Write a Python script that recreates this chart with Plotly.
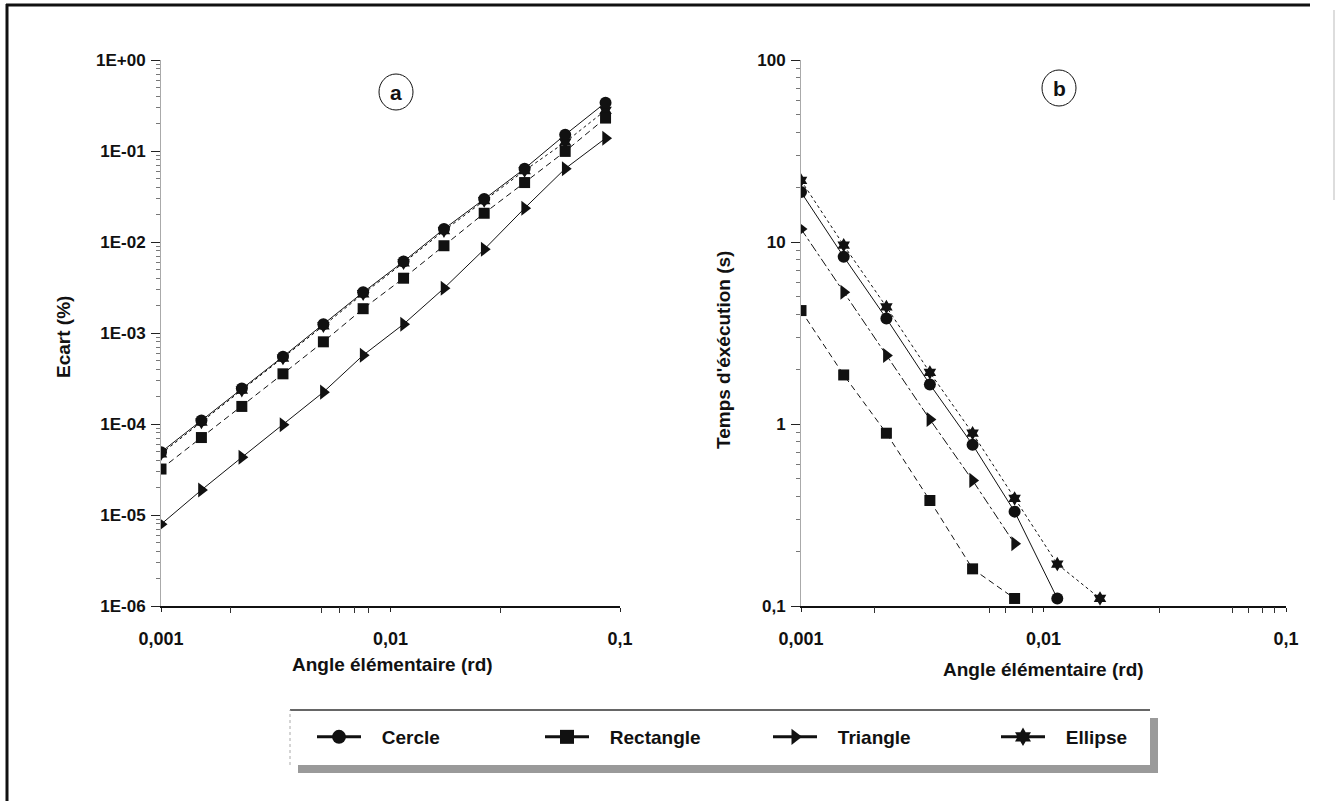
import plotly.graph_objects as go

# ---------------- data ----------------
angles = [0.001, 0.0015, 0.00225, 0.0034, 0.0051, 0.0076, 0.0114, 0.0171, 0.0256, 0.0384, 0.0577, 0.0865]

# panel a : Ecart (%)
ecart_cercle = [4.9e-5, 1.09e-4, 2.45e-4, 5.5e-4, 1.25e-3, 2.8e-3, 6.1e-3, 1.39e-2, 2.96e-2, 6.4e-2, 0.151, 0.34]
ecart_rectangle = [3.2e-5, 7.1e-5, 1.56e-4, 3.56e-4, 8.0e-4, 1.85e-3, 4.0e-3, 9.1e-3, 2.07e-2, 4.5e-2, 0.099, 0.23]
ecart_triangle = [7.9e-6, 1.88e-5, 4.3e-5, 9.8e-5, 2.24e-4, 5.7e-4, 1.25e-3, 3.1e-3, 8.3e-3, 2.35e-2, 6.4e-2, 0.138]
ecart_ellipse = [4.7e-5, 1.05e-4, 2.35e-4, 5.3e-4, 1.2e-3, 2.7e-3, 5.9e-3, 1.33e-2, 2.85e-2, 6.1e-2, 0.125, 0.28]

# panel b : Temps d'exécution (s)
temps_cercle = [18.8, 8.3, 3.8, 1.65, 0.77, 0.33, 0.11]
temps_rectangle = [4.2, 1.86, 0.89, 0.38, 0.16, 0.11]
temps_triangle = [11.8, 5.3, 2.38, 1.06, 0.49, 0.22]
temps_ellipse = [21.8, 9.6, 4.4, 1.92, 0.89, 0.39, 0.17, 0.11]

series_names = ["Cercle", "Rectangle", "Triangle", "Ellipse"]
x_tickvals = [0.001, 0.01, 0.1]
x_ticktext = ["0,001", "0,01", "0,1"]
ya_tickvals = [1, 0.1, 0.01, 0.001, 1e-4, 1e-5, 1e-6]
ya_ticktext = ["1E+00", "1E-01", "1E-02", "1E-03", "1E-04", "1E-05", "1E-06"]
yb_tickvals = [100, 10, 1, 0.1]
yb_ticktext = ["100", "10", "1", "0,1"]
# minor tick marks visible on the scanned axes
xa_minor = [0.002, 0.005, 0.006, 0.007, 0.008, 0.03]
xb_minor = [0.002, 0.006, 0.007, 0.009, 0.03, 0.06, 0.07, 0.08, 0.09]
ya_minor = [m * 10.0 ** e for e in range(-6, 0) for m in range(2, 10)]
yb_minor = [m * 10.0 ** e for e in range(-1, 2) for m in range(2, 10)]

# ---------------- styles ----------------
W, H = 1336, 801
FONT = "Liberation Sans, Arial, sans-serif"
symbols = {"Cercle": "circle", "Rectangle": "square", "Triangle": "triangle-right", "Ellipse": "hexagram"}
sizes = {"Cercle": 12, "Rectangle": 11, "Triangle": 13, "Ellipse": 11}
dash_a = {"Cercle": "solid", "Rectangle": "6px,4px", "Triangle": "solid", "Ellipse": "dot"}
dash_b = {"Cercle": "solid", "Rectangle": "6px,4px", "Triangle": "dashdot", "Ellipse": "dot"}

fig = go.Figure()

ecart = {"Cercle": ecart_cercle, "Rectangle": ecart_rectangle, "Triangle": ecart_triangle, "Ellipse": ecart_ellipse}
temps = {"Cercle": temps_cercle, "Rectangle": temps_rectangle, "Triangle": temps_triangle, "Ellipse": temps_ellipse}

draw_order = ["Ellipse", "Triangle", "Rectangle", "Cercle"]
for name in draw_order:
    fig.add_trace(go.Scatter(
        x=angles[:len(ecart[name])], y=ecart[name], mode="lines+markers",
        line=dict(color="#111", width=1, dash=dash_a[name]),
        marker=dict(symbol=symbols[name], size=sizes[name], color="#111"),
        xaxis="x", yaxis="y", showlegend=False, name=name))
for name in draw_order:
    fig.add_trace(go.Scatter(
        x=angles[:len(temps[name])], y=temps[name], mode="lines+markers",
        line=dict(color="#111", width=1, dash=dash_b[name]),
        marker=dict(symbol=symbols[name], size=sizes[name], color="#111"),
        xaxis="x2", yaxis="y2", showlegend=False, name=name))

# invisible traces so the minor-tick overlay axes are drawn
fig.add_trace(go.Scatter(x=[None], y=[None], xaxis="x3", yaxis="y3", showlegend=False, hoverinfo="skip"))
fig.add_trace(go.Scatter(x=[None], y=[None], xaxis="x4", yaxis="y4", showlegend=False, hoverinfo="skip"))

# legend entries (solid thick samples as in the original)
for name in series_names:
    fig.add_trace(go.Scatter(
        x=[None], y=[None], mode="lines+markers", name="\u00a0\u00a0\u00a0" + name,
        line=dict(color="#111", width=3),
        marker=dict(symbol=symbols[name], size=14, color="#111"),
        xaxis="x", yaxis="y", showlegend=True))

ydom = [1 - 606 / H, 1 - 60 / H]
xdom_a = [161 / W, 620 / W]
xdom_b = [801 / W, 1286 / W]
tickfont_x = dict(family=FONT, size=18, color="#111", weight="bold")
tickfont_y = dict(family=FONT, size=17, color="#111", weight="bold")


def xaxis_cfg(dom, anchor):
    return dict(type="log", range=[-3, -1], domain=dom, anchor=anchor,
                tickvals=x_tickvals, ticktext=x_ticktext, tickfont=tickfont_x,
                ticks="outside", ticklen=4, tickcolor="#222",
                ticklabelstandoff=12,
                showline=True, linecolor="#111", linewidth=1.5,
                showgrid=False, zeroline=False, fixedrange=True, automargin=False)


def xminor_cfg(dom, anchor, over, vals):
    return dict(type="log", range=[-3, -1], domain=dom, anchor=anchor, overlaying=over,
                tickvals=vals, showticklabels=False, ticks="outside", ticklen=6,
                tickcolor="#333", tickwidth=1, showline=False,
                showgrid=False, zeroline=False, fixedrange=True, automargin=False)


def yaxis_cfg(rng, anchor, vals, text):
    return dict(type="log", range=rng, domain=ydom, anchor=anchor,
                tickvals=vals, ticktext=text, tickfont=tickfont_y,
                ticks="outside", ticklen=9, tickcolor="#222", ticklabelstandoff=2,
                showline=True, linecolor="#aaa", linewidth=1,
                showgrid=False, zeroline=False, fixedrange=True, automargin=False)


def yminor_cfg(rng, anchor, over, vals):
    return dict(type="log", range=rng, domain=ydom, anchor=anchor, overlaying=over, side="left",
                tickvals=vals, showticklabels=False, ticks="outside", ticklen=4,
                tickcolor="#777", tickwidth=1, showline=False,
                showgrid=False, zeroline=False, fixedrange=True, automargin=False)


fig.update_layout(
    width=W, height=H, margin=dict(l=0, r=0, t=0, b=0, autoexpand=False),
    paper_bgcolor="white", plot_bgcolor="rgba(0,0,0,0)",
    font=dict(family=FONT, color="#111"),
    xaxis=xaxis_cfg(xdom_a, "y"),
    yaxis=yaxis_cfg([-6, 0], "x", ya_tickvals, ya_ticktext),
    xaxis2=xaxis_cfg(xdom_b, "y2"),
    yaxis2=yaxis_cfg([-1, 2], "x2", yb_tickvals, yb_ticktext),
    xaxis3=xminor_cfg(xdom_a, "y3", "x", xa_minor),
    yaxis3=yminor_cfg([-6, 0], "x3", "y", ya_minor),
    xaxis4=xminor_cfg(xdom_b, "y4", "x2", xb_minor),
    yaxis4=yminor_cfg([-1, 2], "x4", "y2", yb_minor),
    legend=dict(orientation="h", x=312 / W, y=1 - 737 / H, xanchor="left", yanchor="middle",
                bgcolor="rgba(0,0,0,0)", borderwidth=0,
                font=dict(family=FONT, size=19, color="#111", weight="bold"),
                entrywidth=169, entrywidthmode="pixels", itemwidth=44),
    showlegend=True,
)

shapes = []
# outer frame
shapes.append(dict(type="line", xref="paper", yref="paper", x0=6 / W, x1=1310 / W, y0=1 - 5 / H, y1=1 - 5 / H,
                   line=dict(color="#111", width=3)))
shapes.append(dict(type="line", xref="paper", yref="paper", x0=7 / W, x1=7 / W, y0=0, y1=1 - 4 / H,
                   line=dict(color="#111", width=3)))
shapes.append(dict(type="line", xref="paper", yref="paper", x0=1334 / W, x1=1334 / W, y0=1 - 200 / H, y1=1 - 10 / H,
                   line=dict(color="#bbb", width=1)))
# legend box with shadow
shapes.append(dict(type="rect", xref="paper", yref="paper", x0=298 / W, x1=1158 / W, y0=1 - 773 / H, y1=1 - 718 / H,
                   fillcolor="#9a9a9a", line=dict(width=0), layer="below"))
shapes.append(dict(type="rect", xref="paper", yref="paper", x0=290 / W, x1=1150 / W, y0=1 - 765 / H, y1=1 - 710 / H,
                   fillcolor="white", line=dict(width=0), layer="below"))
shapes.append(dict(type="line", xref="paper", yref="paper", x0=290 / W, x1=1150 / W, y0=1 - 710 / H, y1=1 - 710 / H,
                   line=dict(color="#333", width=1.5)))
shapes.append(dict(type="line", xref="paper", yref="paper", x0=290 / W, x1=290 / W, y0=1 - 765 / H, y1=1 - 710 / H,
                   line=dict(color="#aaa", width=1, dash="dot")))
# circled panel letters
for cx, cy in [(396, 92), (1059, 88)]:
    shapes.append(dict(type="circle", xref="paper", yref="paper",
                       x0=(cx - 17) / W, x1=(cx + 17) / W, y0=1 - (cy + 18) / H, y1=1 - (cy - 18) / H,
                       line=dict(color="#111", width=1)))
fig.update_layout(shapes=shapes)

ann = []
for txt, cx, cy in [("a", 396, 92), ("b", 1059, 88)]:
    ann.append(dict(text=txt, x=cx / W, y=1 - cy / H, xref="paper", yref="paper", showarrow=False,
                    font=dict(family=FONT, size=21, color="#111", weight="bold"), xanchor="center", yanchor="middle"))
title_font = dict(family=FONT, size=19, color="#111", weight="bold")
ann.append(dict(text="Angle élémentaire (rd)", x=392 / W, y=1 - 664 / H, xref="paper", yref="paper", showarrow=False,
                font=title_font, xanchor="center", yanchor="middle"))
ann.append(dict(text="Angle élémentaire (rd)", x=1043 / W, y=1 - 669 / H, xref="paper", yref="paper", showarrow=False,
                font=title_font, xanchor="center", yanchor="middle"))
ann.append(dict(text="Ecart (%)", x=64 / W, y=1 - 337 / H, xref="paper", yref="paper", showarrow=False, textangle=-90,
                font=title_font, xanchor="center", yanchor="middle"))
ann.append(dict(text="Temps d'éxécution (s)", x=724 / W, y=1 - 350 / H, xref="paper", yref="paper", showarrow=False,
                textangle=-90, font=title_font, xanchor="center", yanchor="middle"))
fig.update_layout(annotations=ann)

fig.write_html("out.html", config={"displayModeBar": False},
               post_script="document.body.style.margin='0';")
